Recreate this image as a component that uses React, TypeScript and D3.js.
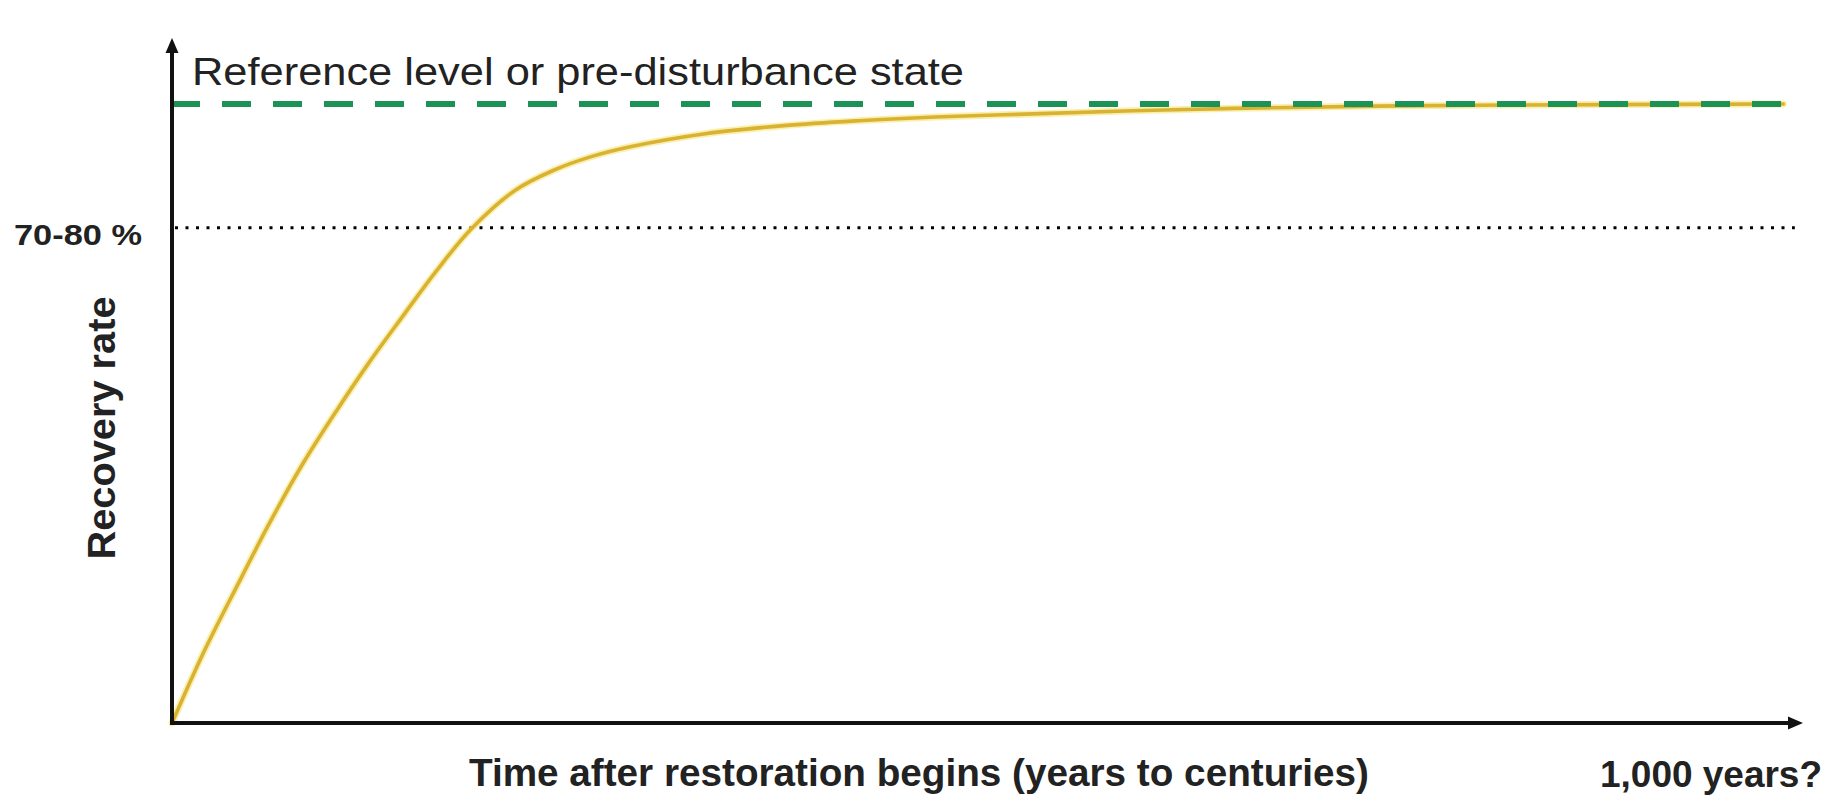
import React from "react";
import * as d3 from "d3";

// ---- data ----
const timeYears = [0, 19, 40, 60, 80, 101, 121, 142, 162, 183, 210, 234, 257, 281, 327, 375, 421, 468, 528, 589, 651, 753, 876, 988];
const recoveryPct = [0, 11.2, 22.2, 32.4, 41.8, 50.5, 58.3, 65.9, 73.0, 79.7, 86.0, 89.3, 91.5, 93.1, 95.2, 96.5, 97.3, 97.9, 98.4, 98.9, 99.3, 99.7, 99.9, 100];
const referenceLevel = [100];
const thresholdLevel = [80];
const axisMaxYears = [1000];
const labels = {
  reference: "Reference level or pre-disturbance state",
  threshold: "70-80 %",
  yTitle: "Recovery rate",
  xTitle: "Time after restoration begins (years to centuries)",
  xEnd: "1,000 years?",
};

const W = 1835;
const H = 796;
const FONT = "'Liberation Sans', Arial, Helvetica, sans-serif";

export default function App() {
  const x = d3.scaleLinear().domain([0, axisMaxYears[0]]).range([172, 1803]);
  const y = d3.scaleLinear().domain([0, 100]).range([723, 104]);

  const pts = timeYears.map((t, i) => [t, recoveryPct[i]] as [number, number]);
  const line = d3
    .line<[number, number]>()
    .x((d) => x(d[0]))
    .y((d) => y(d[1]))
    .curve(d3.curveCatmullRom.alpha(0.5));
  const path = line(pts) || "";

  const x0 = x(0);
  const y0 = y(0);
  const xEnd = x(axisMaxYears[0]);
  const yTop = 38;

  return (
    <svg
      width={W}
      height={H}
      viewBox={`0 0 ${W} ${H}`}
      style={{ position: "absolute", left: 0, top: 0, display: "block", background: "#fff" }}
    >
      <rect x={0} y={0} width={W} height={H} fill="#fff" />

      {/* threshold dotted line */}
      {thresholdLevel.map((v) => (
        <line
          key={"t" + v}
          x1={x0 + 3}
          x2={x(995)}
          y1={y(v)}
          y2={y(v)}
          stroke="#000"
          strokeWidth={3}
          strokeDasharray="3 7.5"
        />
      ))}

      {/* recovery curve */}
      <path d={path} fill="none" stroke="#f6e98a" strokeWidth={7} strokeLinecap="round" opacity={0.7} />
      <path d={path} fill="none" stroke="#d9b233" strokeWidth={3.6} strokeLinecap="round" />

      {/* reference dashed line */}
      {referenceLevel.map((v) => (
        <line
          key={"r" + v}
          x1={x0 - 1}
          x2={x(1000) - 20}
          y1={y(v)}
          y2={y(v)}
          stroke="#1c9256"
          strokeWidth={6}
          strokeDasharray="29 22"
        />
      ))}

      {/* axes */}
      <line x1={x0} y1={y0 + 2} x2={x0} y2={yTop + 13} stroke="#111" strokeWidth={4} />
      <polygon points={`${x0},${yTop} ${x0 - 6.5},${yTop + 15} ${x0 + 6.5},${yTop + 15}`} fill="#111" />
      <line x1={x0 - 2} y1={y0} x2={xEnd - 13} y2={y0} stroke="#111" strokeWidth={4} />
      <polygon points={`${xEnd},${y0} ${xEnd - 15},${y0 - 6.5} ${xEnd - 15},${y0 + 6.5}`} fill="#111" />

      {/* texts */}
      <text
        x={192}
        y={85}
        fontFamily={FONT}
        fontSize={39}
        fill="#222"
        textLength={772}
        lengthAdjust="spacingAndGlyphs"
      >
        {labels.reference}
      </text>
      <text
        x={14}
        y={245}
        fontFamily={FONT}
        fontSize={29}
        fontWeight="bold"
        fill="#222"
        textLength={128}
        lengthAdjust="spacingAndGlyphs"
      >
        {labels.threshold}
      </text>
      <text
        transform={`translate(115,${428}) rotate(-90)`}
        textAnchor="middle"
        fontFamily={FONT}
        fontSize={38}
        fontWeight="bold"
        fill="#222"
        textLength={263}
        lengthAdjust="spacingAndGlyphs"
      >
        {labels.yTitle}
      </text>
      <text
        x={469}
        y={786}
        fontFamily={FONT}
        fontSize={38}
        fontWeight="bold"
        fill="#222"
        textLength={900}
        lengthAdjust="spacingAndGlyphs"
      >
        {labels.xTitle}
      </text>
      <text
        x={1600}
        y={787}
        fontFamily={FONT}
        fontSize={36}
        fontWeight="bold"
        fill="#222"
        textLength={222}
        lengthAdjust="spacingAndGlyphs"
      >
        {labels.xEnd}
      </text>
    </svg>
  );
}
